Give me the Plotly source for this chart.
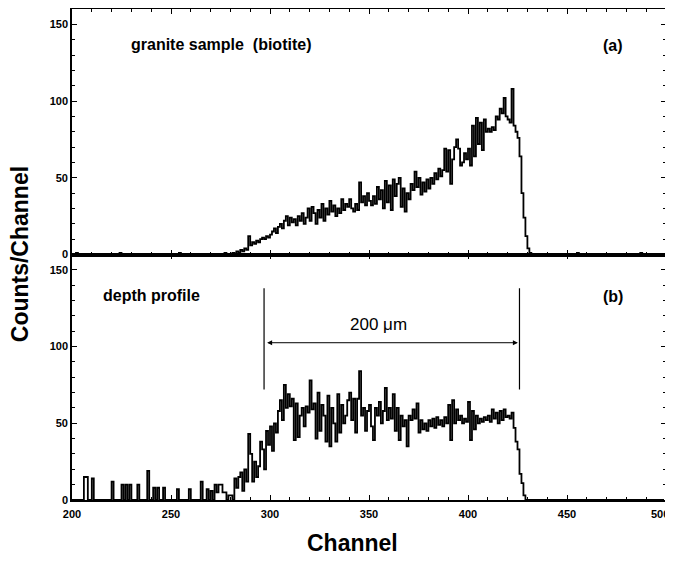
import plotly.graph_objects as go
from plotly.subplots import make_subplots

# ---------------- data ----------------
channels = list(range(200, 500))

counts_biotite = [
    0, 0, 1, 0, 0, 0, 0, 0, 0, 0,        # 200
    0, 0, 0, 0, 0, 0, 0, 0, 0, 0,        # 210
    0, 0, 0, 0, 1, 0, 0, 0, 0, 0,        # 220
    0, 0, 0, 0, 0, 0, 0, 0, 0, 0,        # 230
    0, 0, 0, 0, 0, 0, 0, 0, 0, 0,        # 240
    0, 0, 0, 0, 1, 0, 0, 0, 0, 0,        # 250
    0, 0, 0, 0, 0, 0, 0, 0, 0, 0,        # 260
    0, 0, 0, 0, 0, 0, 0, 1, 0, 0,        # 270
    0, 1, 0, 2, 1, 3, 2, 4, 3, 12,       # 280
    6, 8, 7, 9, 8, 10, 11, 10, 12, 11,   # 290
    13, 15, 17, 14, 18, 20, 17, 22, 25, 19,  # 300
    24, 21, 23, 19, 25, 22, 27, 20, 24, 30,  # 310
    22, 31, 27, 20, 29, 24, 33, 22, 30, 26,  # 320
    35, 28, 32, 25, 30, 27, 36, 29, 33, 31,  # 330
    36, 30, 28, 33, 29, 47, 34, 38, 32, 40,  # 340
    35, 32, 38, 33, 44, 36, 42, 30, 48, 34,  # 350
    45, 29, 49, 38, 46, 50, 31, 43, 28, 40,  # 360
    36, 46, 42, 54, 44, 50, 39, 47, 41, 49,  # 370
    43, 50, 46, 53, 49, 56, 51, 55, 69, 54,  # 380
    68, 46, 62, 70, 75, 69, 58, 60, 66, 62,  # 390
    69, 58, 84, 64, 89, 72, 86, 68, 88, 80,  # 400
    82, 80, 83, 81, 90, 88, 95, 92, 102, 90,  # 410
    88, 86, 108, 84, 80, 76, 64, 40, 24, 12,  # 420
    4, 1, 0, 0, 0, 0, 0, 0, 0, 0,        # 430
    0, 0, 0, 0, 0, 0, 0, 0, 0, 0,        # 440
    0, 0, 0, 0, 0, 1, 0, 0, 0, 0,        # 450
    0, 0, 0, 0, 0, 0, 0, 0, 0, 0,        # 460
    0, 0, 0, 0, 0, 0, 0, 0, 0, 0,        # 470
    0, 0, 0, 0, 0, 0, 0, 1, 0, 0,        # 480
    0, 0, 0, 0, 0, 0, 0, 0, 0, 0,        # 490
]

counts_depth = [
    0, 0, 0, 0, 0, 0, 15, 15, 0, 0,      # 200
    14, 0, 0, 0, 0, 0, 0, 0, 0, 0,       # 210
    12, 0, 0, 0, 0, 10, 0, 10, 0, 10,    # 220
    0, 0, 0, 10, 0, 0, 0, 0, 19, 0,      # 230
    0, 8, 0, 8, 0, 0, 8, 0, 0, 0,        # 240
    0, 0, 0, 7, 0, 0, 0, 0, 0, 7,        # 250
    0, 0, 0, 0, 0, 12, 0, 0, 7, 0,       # 260
    6, 0, 10, 5, 10, 10, 5, 5, 0, 3,     # 270
    3, 0, 14, 8, 15, 18, 6, 20, 12, 43,  # 280
    30, 12, 25, 15, 22, 38, 33, 20, 45, 36,  # 290
    48, 32, 50, 44, 58, 65, 52, 75, 60, 69,  # 300
    61, 66, 39, 63, 41, 55, 60, 48, 61, 57,  # 310
    78, 59, 63, 40, 70, 45, 62, 55, 38, 68,  # 320
    35, 60, 50, 38, 69, 44, 62, 50, 55, 65,  # 330
    70, 52, 66, 44, 66, 84, 55, 60, 45, 58,  # 340
    62, 48, 39, 60, 55, 64, 50, 58, 73, 52,  # 350
    60, 53, 69, 45, 60, 39, 55, 48, 52, 35,  # 360
    55, 52, 59, 53, 63, 44, 52, 46, 50, 45,  # 370
    52, 48, 53, 47, 54, 49, 52, 48, 54, 50,  # 380
    62, 39, 65, 50, 59, 52, 55, 50, 53, 51,  # 390
    64, 39, 58, 46, 55, 50, 53, 51, 54, 52,  # 400
    55, 51, 59, 53, 57, 50, 58, 52, 59, 54,  # 410
    55, 53, 57, 47, 38, 33, 17, 11, 3, 0,    # 420
    0, 0, 0, 0, 0, 0, 0, 0, 0, 0,        # 430
    0, 0, 0, 0, 0, 0, 0, 0, 0, 0,        # 440
    0, 0, 0, 0, 0, 0, 0, 0, 0, 0,        # 450
    0, 0, 0, 0, 0, 0, 0, 0, 0, 0,        # 460
    0, 0, 0, 0, 0, 0, 0, 0, 0, 0,        # 470
    0, 0, 0, 0, 0, 0, 0, 0, 0, 0,        # 480
    0, 0, 0, 0, 0, 0, 0, 0, 0, 0,        # 490
]

x_ticks = [200, 250, 300, 350, 400, 450, 500]
x_tick_labels = ["200", "250", "300", "350", "400", "450", "500"]
y_ticks = [0, 50, 100, 150]
depth_range_channels = [297, 426]
panel_labels = ["granite sample\u00a0 (biotite)", "depth profile"]
panel_tags = ["(a)", "(b)"]
range_label = "200 \u03bcm"

# ---------------- figure ----------------
FONT = "Liberation Sans, Arial, sans-serif"
fig = make_subplots(rows=2, cols=1, shared_xaxes=True, vertical_spacing=0)

fig.add_trace(go.Scatter(x=channels, y=counts_biotite, mode="lines",
                         line=dict(shape="hv", color="black", width=1.8),
                         showlegend=False), row=1, col=1)
fig.add_trace(go.Scatter(x=channels, y=counts_depth, mode="lines",
                         line=dict(shape="hv", color="black", width=1.8),
                         showlegend=False), row=2, col=1)

tick_font = dict(family=FONT, size=11, color="black", weight="bold")
axis_common = dict(showline=True, linecolor="black", linewidth=1.6, mirror="ticks",
                   ticks="inside", ticklen=5, tickwidth=1.2, tickcolor="black",
                   showgrid=False, zeroline=False, automargin=False,
                   tickfont=tick_font)

# the last x label is drawn as an annotation, right-aligned so it stays in the window
shown_x_labels = x_tick_labels[:-1] + [""]

for r in (1, 2):
    fig.update_xaxes(range=[200, 500], tickvals=x_ticks, ticktext=shown_x_labels,
                     minor=dict(ticks="inside", dtick=10, tick0=200, ticklen=3,
                                tickwidth=1, tickcolor="black", showgrid=False),
                     showticklabels=(r == 2), ticklabelstandoff=3,
                     row=r, col=1, **axis_common)
    fig.update_yaxes(range=[0, 160], tickvals=y_ticks,
                     minor=dict(ticks="inside", dtick=10, tick0=0, ticklen=3,
                                tickwidth=1, tickcolor="black", showgrid=False),
                     row=r, col=1, **axis_common)

txt = dict(family=FONT, color="black", size=16)
ann = [
    dict(x=229, y=137, xref="x", yref="y", text="<b>%s</b>" % panel_labels[0],
         xanchor="left", yanchor="middle", showarrow=False, font=txt),
    dict(x=473, y=136, xref="x", yref="y", text="<b>%s</b>" % panel_tags[0],
         xanchor="center", yanchor="middle", showarrow=False, font=txt),
    dict(x=214.5, y=133, xref="x2", yref="y2", text="<b>%s</b>" % panel_labels[1],
         xanchor="left", yanchor="middle", showarrow=False, font=txt),
    dict(x=473, y=132.5, xref="x2", yref="y2", text="<b>%s</b>" % panel_tags[1],
         xanchor="center", yanchor="middle", showarrow=False, font=txt),
    dict(x=355, y=114.5,
         xref="x2", yref="y2", text=range_label,
         xanchor="center", yanchor="middle", showarrow=False,
         font=dict(family=FONT, color="black", size=17)),
    # double-headed arrow
    dict(x=depth_range_channels[1] - 0.8, y=102.5, ax=depth_range_channels[0] + 0.8, ay=102.5,
         xref="x2", yref="y2", axref="x2", ayref="y2", text="",
         showarrow=True, arrowhead=2, startarrowhead=2, arrowside="end+start",
         arrowsize=1, arrowwidth=1, arrowcolor="black", standoff=0, startstandoff=0),
    # last x tick label
    dict(x=x_ticks[-1], y=0, xref="x2", yref="paper", text=x_tick_labels[-1],
         xanchor="right", yanchor="middle", xshift=5, yshift=-14, showarrow=False,
         font=tick_font),
    # axis titles
    dict(x=-0.088, y=0.5, xref="paper", yref="paper", text="<b>Counts/Channel</b>",
         textangle=-90, xanchor="center", yanchor="middle", showarrow=False,
         font=dict(family=FONT, size=23, color="black")),
    dict(x=0.472, y=-0.087, xref="paper", yref="paper", text="<b>Channel</b>",
         xanchor="center", yanchor="middle", showarrow=False,
         font=dict(family=FONT, size=23, color="black")),
]
fig.update_layout(annotations=ann)

for xc in depth_range_channels:
    fig.add_shape(type="line", x0=xc, x1=xc, y0=72, y1=138, xref="x2", yref="y2",
                  line=dict(color="black", width=1.2))

# the page body adds an 8 px offset; margins compensate so the plot area sits at
# x 72..666, y 9..500 of the 673x563 window, and the page does not overflow
fig.update_layout(width=665, height=547, plot_bgcolor="white", paper_bgcolor="white",
                  margin=dict(l=64, r=7, t=1, b=55, autoexpand=False), showlegend=False)

fig.write_html("out.html")
